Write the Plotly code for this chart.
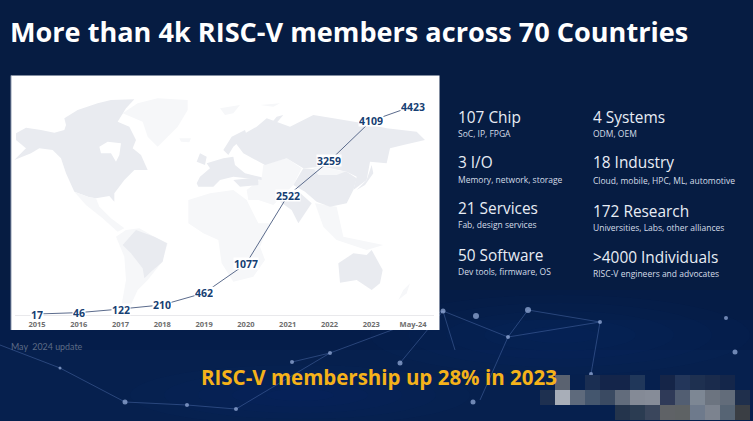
import plotly.graph_objects as go

W, H = 753, 421

# ---- chart data ----
periods = ["2015", "2016", "2017", "2018", "2019", "2020", "2021", "2022", "2023", "May-24"]
members = [17, 46, 122, 210, 462, 1077, 2522, 3259, 4109, 4423]

title_text = "More than 4k RISC-V members across 70 Countries"
footer_text = "RISC-V membership up 28% in 2023"
note_text = "May  2024 update"

left_heads = ["107 Chip", "3 I/O", "21 Services", "50 Software"]
left_subs = ["SoC, IP, FPGA", "Memory, network, storage", "Fab, design services", "Dev tools, firmware, OS"]
right_heads = ["4 Systems", "18 Industry", "172 Research", ">4000 Individuals"]
right_subs = ["ODM, OEM", "Cloud, mobile, HPC, ML, automotive",
              "Universities, Labs, other alliances", "RISC-V engineers and advocates"]

# ---- decorative backdrop (pixel geometry, not data) ----
Z5 = (11, 90)
Z6 = (190, 90)
LAND_DARK = "#e9ebf0"
LAND_LIGHT = "#f6f7f9"
map_shapes = [
    (Z5, LAND_LIGHT, [(335,70),(380,40),(440,25),(530,30),(530,60),(500,110),(440,170),(410,140),(395,95)]),
    (Z5, LAND_LIGHT, [(505,145),(540,145),(535,157),(510,155)]),
    (Z5, LAND_DARK, [(15,130),(45,113),(90,120),(130,128),(160,120),(165,105),(160,85),(200,60),(260,40),(300,30),(370,28),(345,55),(320,95),(355,110),(375,150),(365,175),(390,195),(410,240),(370,240),(340,270),(310,310),(310,335),(295,318),(255,325),(235,322),(190,305),(165,250),(150,205),(125,180),(85,175),(60,190),(10,210),(45,175),(15,150)]),
    (Z5, "#ffffff", [(265,170),(290,155),(330,160),(325,195),(315,215),(300,190),(270,190)]),
    (Z5, LAND_LIGHT, [(190,305),(235,322),(255,325),(265,350),(300,385),(340,415),(320,425),(275,385),(225,345)]),
    (Z5, LAND_LIGHT, [(315,440),(345,420),(385,415),(430,440),(470,460),(450,520),(410,570),(380,600),(355,655),(330,655),(345,570),(340,500)]),
    (Z5, LAND_DARK, [(335,465),(375,420),(430,440),(468,460),(455,515),(420,545),(400,565),(395,535),(360,490)]),
    (Z6, LAND_LIGHT, [(-5,330),(60,310),(130,300),(170,330),(205,400),(240,400),(210,470),(225,510),(190,560),(130,575),(95,520),(85,450),(40,430),(-5,400)]),
    (Z6, LAND_LIGHT, [(170,300),(215,265),(220,225),(290,205),(335,235),(310,285),(275,320),(250,345),(205,330),(175,330)]),
    (Z6, LAND_LIGHT, [(375,340),(440,350),(460,440),(580,465),(530,480),(440,450),(400,410)]),
    (Z6, LAND_DARK, [(130,150),(200,110),(230,85),(300,110),(370,75),(430,85),(520,100),(590,115),(680,125),(705,150),(640,165),(600,175),(590,220),(540,215),(530,270),(490,300),(500,260),(470,245),(400,230),(340,235),(290,205),(225,225),(160,190)]),
    (Z6, LAND_DARK, [(310,285),(340,235),(400,240),(470,245),(500,265),(490,300),(470,340),(420,350),(380,335),(345,305)]),
    (Z6, LAND_LIGHT, [(370,235),(400,232),(465,245),(440,255),(385,255)]),
    (Z6, LAND_DARK, [(270,335),(320,300),(365,340),(345,370),(325,400),(305,360)]),
    (Z6, LAND_DARK, [(20,280),(30,260),(60,235),(50,220),(100,205),(130,200),(135,225),(165,250),(215,262),(215,270),(130,260),(90,270),(70,290),(25,290)]),
    (Z6, LAND_DARK, [(100,180),(125,140),(165,120),(170,135),(130,170),(115,195)]),
    (Z6, LAND_DARK, [(20,215),(30,190),(50,200),(45,225)]),
    (Z6, LAND_DARK, [(130,270),(205,262),(205,285),(150,290)]),
    (Z6, LAND_DARK, [(500,300),(530,270),(545,225),(550,250),(525,285)]),
    (Z6, LAND_DARK, [(445,520),(490,490),(530,495),(545,480),(578,540),(570,580),(545,600),(500,570),(450,578)]),
    (Z6, LAND_LIGHT, [(640,600),(660,580),(650,610),(625,630)]),
    (Z6, LAND_LIGHT, [(90,55),(150,45),(130,70),(105,75)]),
    (Z6, LAND_LIGHT, [(210,45),(270,40),(250,50)]),
    (Z6, LAND_DARK, [(235,110),(260,80),(280,75),(250,110)]),
]

nodes = [(443,311,2.5),(508,337,2),(600,322,2),(330,353,2),(60,368,1.5),(125,402,2.5),(187,405,2),
         (236,409,2),(400,363,2.5),(476,316,3),(528,310,3),(726,318,2),(735,352,2.5),(473,402,2.5),
         (292,362,2),(591,374,2)]
links = [((443,311),(508,337)),((508,337),(600,322)),((600,322),(591,374)),((508,337),(528,310)),
         ((508,337),(480,400)),((443,311),(330,353)),((330,353),(292,362)),((330,353),(236,409)),
         ((443,311),(455,350)),((60,368),(125,402)),((125,402),(187,405)),((187,405),(236,409)),
         ((0,345),(60,368)),((443,311),(400,363)),((600,322),(528,310))]

mosaic = [
    (555,375,"#5a6270"),(585,375,"#1a2e52"),(600,375,"#14254a"),(615,375,"#14254a"),(630,375,"#20375a"),
    (660,375,"#152548"),(675,375,"#23365a"),(690,375,"#1e3050"),(705,375,"#1a2b4c"),(720,375,"#14264a"),
    (540,390,"#1e3050"),(555,390,"#a8aeb8"),(570,390,"#5e6a7c"),(585,390,"#44566e"),(600,390,"#3a4a62"),
    (615,390,"#626c7c"),(630,390,"#848a96"),(645,390,"#868c98"),(660,390,"#2f3a58"),(675,390,"#525e72"),
    (690,390,"#7d8794"),(705,390,"#6c7480"),(720,390,"#626c7a"),(735,390,"#1f2f4c"),
    (615,405,"#24344c"),(630,405,"#2b3c52"),(645,405,"#3a465c"),(660,405,"#5f6266"),(675,405,"#5e6264"),
    (690,405,"#6e7a8c"),(705,405,"#7c838f"),(720,405,"#566474"),(735,405,"#3a3e44"),
]


def fx(x):
    return x / W


def fy(y):
    return 1 - y / H


def rect(x0, y0, x1, y1, color, opacity=1.0, line=None):
    return dict(type="rect", xref="paper", yref="paper", x0=fx(x0), x1=fx(x1), y0=fy(y0), y1=fy(y1),
                fillcolor=color, opacity=opacity, layer="below",
                line=dict(width=0) if line is None else line)


shapes = []
# background bands
bands = [(0, 290, "#061c42"), (290, 320, "#051c46"), (320, 350, "#051d4a"), (350, 421, "#06204e")]
for y0, y1, c in bands:
    shapes.append(rect(0, y0, W, y1, c))
# soft glow: concentric translucent ellipses
for cx, cy, rx, ry in [(560, 335, 190, 40), (300, 395, 170, 30)]:
    for k in (1.0, 0.8, 0.6, 0.4, 0.2):
        shapes.append(dict(type="circle", xref="paper", yref="paper", x0=fx(cx-rx*k), x1=fx(cx+rx*k),
                           y0=fy(cy+ry*k), y1=fy(cy-ry*k), fillcolor="#2a4f9a", opacity=0.03,
                           layer="below", line=dict(width=0)))
# network
for (a, b) in links:
    shapes.append(dict(type="line", xref="paper", yref="paper", x0=fx(a[0]), y0=fy(a[1]), x1=fx(b[0]), y1=fy(b[1]),
                       line=dict(color="#5f7fc0", width=1), opacity=0.4, layer="below"))
for x, y, r in nodes:
    shapes.append(dict(type="circle", xref="paper", yref="paper", x0=fx(x-r), x1=fx(x+r), y0=fy(y+r), y1=fy(y-r),
                       fillcolor="#9db4e0", opacity=0.7, layer="below", line=dict(width=0)))
# white chart panel
shapes.append(rect(11, 75.5, 439.5, 330, "#ffffff"))
shapes.append(dict(type="line", xref="paper", yref="paper", x0=fx(11), x1=fx(11), y0=fy(75.5), y1=fy(330),
                   line=dict(color="#8f9bb0", width=1), layer="below"))
# map
for (ox, oy), color, pts in map_shapes:
    path = "M " + " L ".join(f"{fx(ox + p[0] / 3):.5f},{fy(oy + p[1] / 3):.5f}" for p in pts) + " Z"
    shapes.append(dict(type="path", xref="paper", yref="paper", path=path, fillcolor=color,
                       line=dict(width=0), layer="below"))
# mosaic
for x, y, c in mosaic:
    shapes.append(rect(x, y, x + 15, min(y + 15, H), c))

fig = go.Figure()
fig.add_trace(go.Scatter(x=periods, y=members, mode="lines", line=dict(color="#5b6b8c", width=1),
                         hoverinfo="skip", showlegend=False))


def label(text, x, y, size, color, weight=400, family="Open Sans"):
    return dict(text=text, xref="paper", yref="paper", x=fx(x - 2), y=fy(y), xanchor="left", yanchor="middle",
                showarrow=False, font=dict(family=family, size=size, color=color, weight=weight), align="left")


annotations = [
    label(title_text, 10, 31, 27.1, "#ffffff", 700),
    label(note_text, 11, 346, 8.9, "#5d6c86", 400, "Lato"),
    label(footer_text, 201, 377, 20.5, "#f5b21a", 700),
]
left_y = [(117, 134), (163, 179.5), (208, 224), (255, 271)]
right_y = [(117, 134), (163, 180), (211, 227), (257, 273)]
for heads, subs, ys, x in [(left_heads, left_subs, left_y, 458), (right_heads, right_subs, right_y, 593)]:
    for h, s, (yh, ys_) in zip(heads, subs, ys):
        annotations.append(label(h, x, yh, 15.4, "#e8edf5"))
        annotations.append(label(s, x, ys_, 8.5, "#d5dce8"))
for i, v in enumerate(members):
    annotations.append(dict(text=str(v), x=i, y=v, xref="x", yref="y", showarrow=False, xanchor="center",
                            yanchor="middle", bgcolor="#ffffff", borderpad=0, height=11,
                            font=dict(family="Open Sans", size=10.5, color="#163f73", weight=700)))

fig.update_layout(
    width=W, height=H, autosize=False,
    margin=dict(l=0, r=0, t=0, b=0),
    paper_bgcolor="#061c42", plot_bgcolor="rgba(0,0,0,0)",
    showlegend=False,
    shapes=shapes, annotations=annotations,
    xaxis=dict(domain=[fx(15), fx(434)], type="category", range=[-0.526, 9.502], showgrid=False, zeroline=False,
               showline=True, linecolor="#e9e9ec", linewidth=1, ticks="", ticklen=0, ticklabelstandoff=2,
               tickfont=dict(family="Open Sans", size=7.5, color="#6d6d6d", weight=700),
               categoryorder="array", categoryarray=periods),
    yaxis=dict(domain=[fy(314.8), fy(76)], range=[0, 5059], visible=False, showgrid=False, zeroline=False),
)
fig.write_html("out.html", config={"displayModeBar": False},
               post_script="document.body.style.margin='0';document.documentElement.style.background='#061c42';")
